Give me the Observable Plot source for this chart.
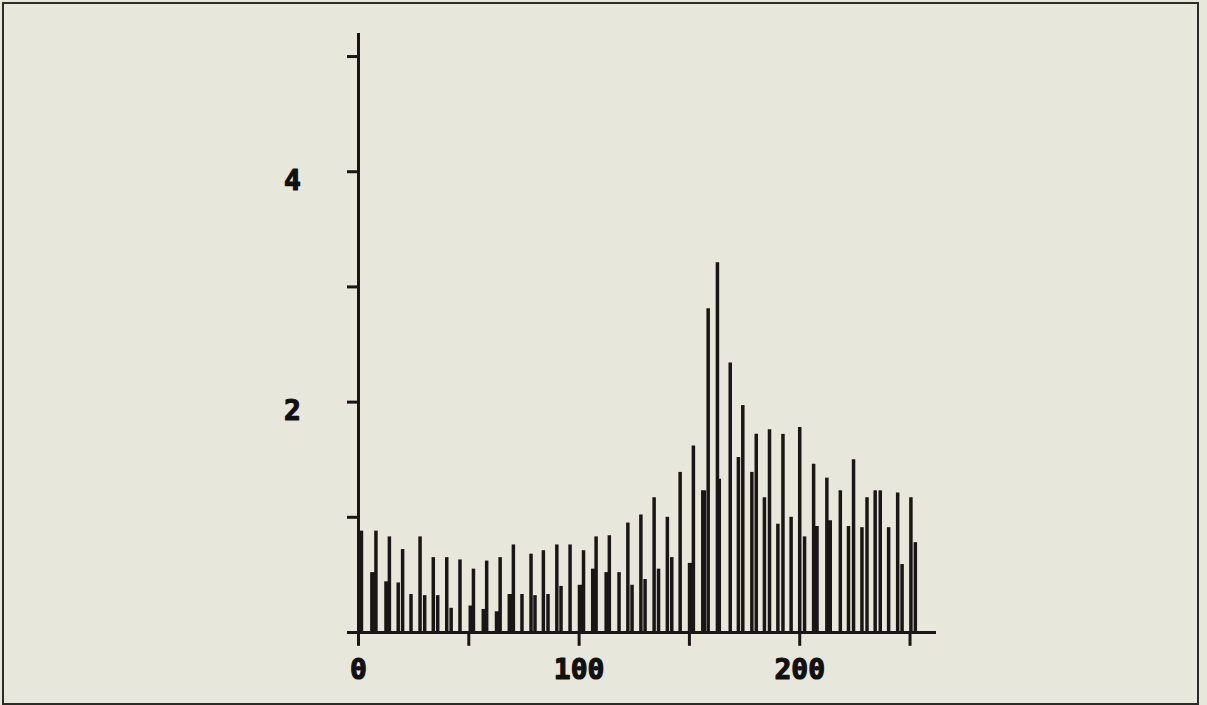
<!DOCTYPE html>
<html>
<head>
<meta charset="utf-8">
<script src="https://cdn.jsdelivr.net/npm/d3@7"></script>
<script src="https://cdn.jsdelivr.net/npm/@observablehq/plot@0.6"></script>
<style>
  html, body { margin: 0; padding: 0; background: #e7e7db; }
  #wrap { position: relative; width: 1207px; height: 705px; overflow: hidden; background: #e7e7db; }
  #frame { position: absolute; left: 2px; top: 2px; width: 1193px; height: 699px; border: 2px solid #2b2b2b; pointer-events: none; }
  #chart { position: absolute; left: 0; top: 0; }
</style>
</head>
<body>
<div id="wrap"><div id="chart"></div><div id="frame"></div></div>
<script>
// Thin (tall) bars
const thinX = [7.9, 14.0, 18.0, 20.0, 23.8, 27.9, 30.0, 33.9, 35.9, 40.0, 42.0, 46.0, 52.1, 58.1, 64.2, 70.2, 74.1, 78.2, 80.0, 83.8, 85.9, 89.9, 91.8, 95.9, 102.0, 107.7, 113.7, 118.1, 122.1, 124.0, 128.0, 129.9, 134.0, 136.0, 140.0, 142.0, 145.8, 151.8, 158.5, 162.7, 168.5, 172.2, 174.2, 178.3, 180.3, 184.0, 186.3, 190.1, 192.4, 196.1, 200.0, 202.2, 206.3, 212.3, 218.4, 222.1, 224.4, 228.2, 230.5, 234.2, 236.5, 240.3, 244.4, 246.4, 250.4, 252.4];
const thinY = [0.88, 0.83, 0.43, 0.72, 0.33, 0.83, 0.32, 0.65, 0.32, 0.65, 0.21, 0.63, 0.55, 0.62, 0.65, 0.76, 0.33, 0.68, 0.32, 0.71, 0.33, 0.76, 0.40, 0.76, 0.71, 0.83, 0.84, 0.52, 0.95, 0.41, 1.02, 0.46, 1.17, 0.55, 1.00, 0.65, 1.39, 1.62, 2.81, 3.21, 2.34, 1.52, 1.97, 1.39, 1.72, 1.17, 1.76, 0.94, 1.72, 1.00, 1.78, 0.83, 1.46, 1.34, 1.23, 0.92, 1.50, 0.91, 1.17, 1.23, 1.23, 0.91, 1.21, 0.59, 1.17, 0.78];
// Thick (lower) bars
const thickX = [1.0, 6.4, 12.8, 51.0, 56.9, 62.9, 68.7, 100.5, 106.5, 112.6, 150.4, 156.4, 163.2, 207.5, 213.5];
const thickY = [0.88, 0.52, 0.44, 0.23, 0.20, 0.18, 0.33, 0.41, 0.55, 0.52, 0.60, 1.23, 1.33, 0.92, 0.97];
// Axis ticks and labels
const xTicks = [0, 50, 100, 150, 200, 250];
const xLabels = [0, 100, 200];
const yTicks = [1, 2, 3, 4, 5];
const yLabels = [2, 4];

const thin = thinX.map((x, i) => ({x, y: thinY[i]}));
const thick = thickX.map((x, i) => ({x, y: thickY[i]}));
const ink = "#1b1616";
const font = "'DejaVu Sans Mono', monospace";

const chart = Plot.plot({
  width: 1207,
  height: 705,
  marginTop: 33,
  marginBottom: 73,
  marginLeft: 358,
  marginRight: 271,
  x: {domain: [0, 262], axis: null},
  y: {domain: [0, 5.2], axis: null},
  style: {background: "transparent", fontFamily: font},
  marks: [
    Plot.ruleX(thick, {x: "x", y1: 0, y2: "y", stroke: ink, strokeWidth: 5}),
    Plot.ruleX(thin, {x: "x", y1: 0, y2: "y", stroke: ink, strokeWidth: 3.5}),
    // axes
    Plot.ruleY([0], {x1: -5, x2: 262, stroke: ink, strokeWidth: 3}),
    Plot.ruleX([0], {y1: 0, y2: 5.2, stroke: ink, strokeWidth: 3}),
    Plot.ruleX(xTicks, {x: d => d, y1: 0, y2: -0.12, stroke: ink, strokeWidth: 3}),
    Plot.ruleY(yTicks, {y: d => d, x1: -5, x2: 0, stroke: ink, strokeWidth: 3}),
    Plot.text(xLabels, {x: d => d, y: 0, dy: 38, text: d => String(d), fill: "#111", stroke: "#111", strokeWidth: 1.2, fontSize: 28, fontWeight: "bold", fontFamily: font}),
    Plot.text(yLabels, {x: -30, y: d => d, dy: 9, text: d => String(d), fill: "#111", stroke: "#111", strokeWidth: 1.2, fontSize: 28, fontWeight: "bold", fontFamily: font})
  ]
});
document.getElementById("chart").appendChild(chart);
</script>
</body>
</html>
